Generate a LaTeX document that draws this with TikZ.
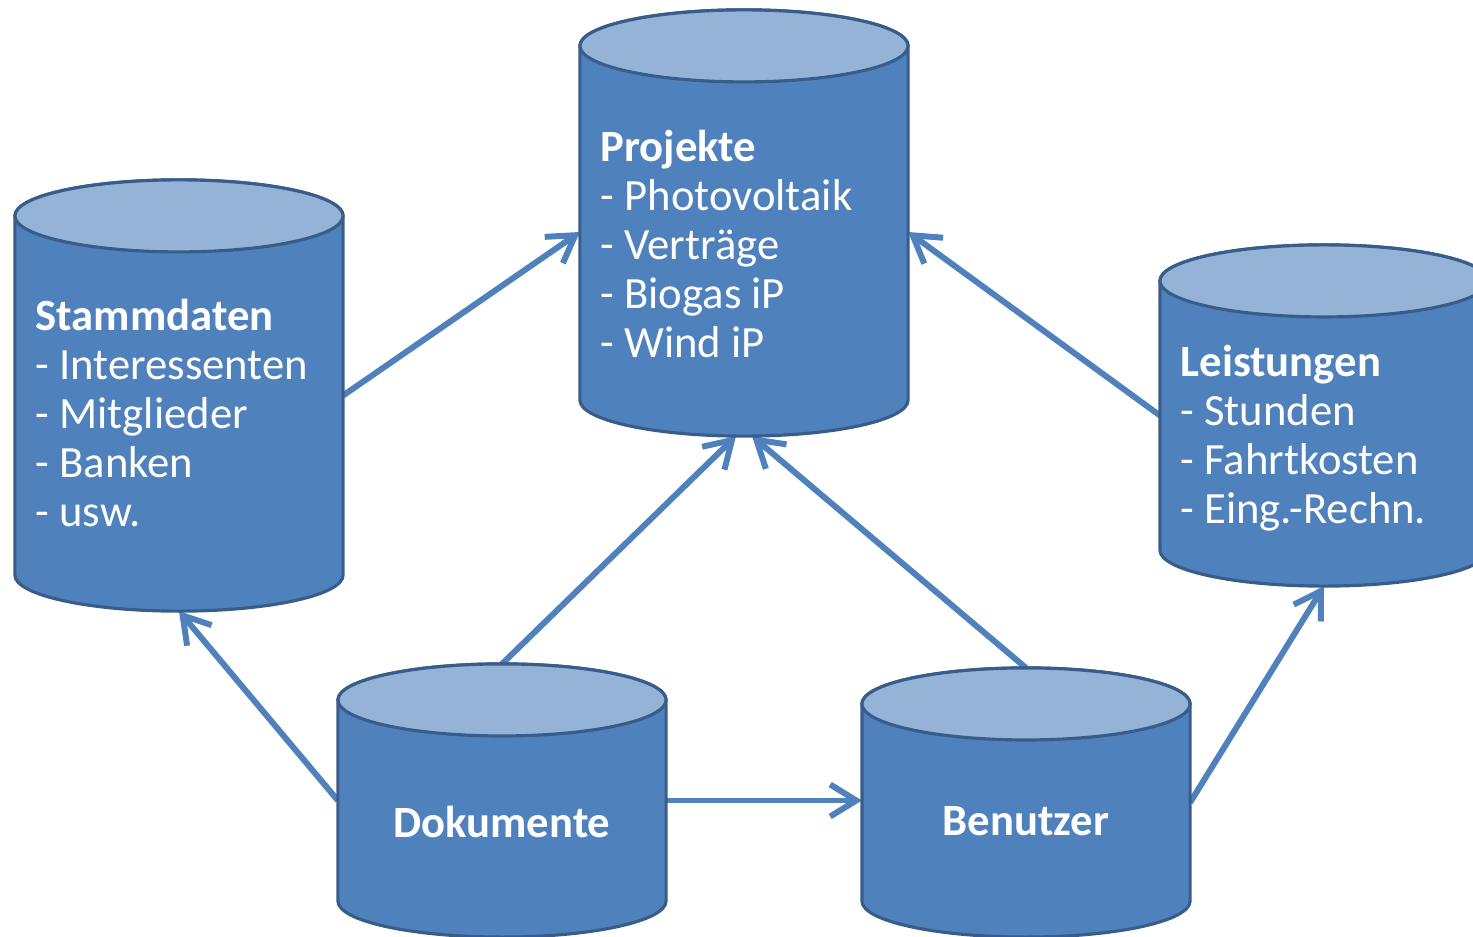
\documentclass[tikz,border=0pt]{standalone}
\usepackage{fontspec}
\setmainfont{Carlito}
\usetikzlibrary{arrows.meta}
\definecolor{dbbody}{HTML}{4F81BD}
\definecolor{dbtop}{HTML}{95B3D7}
\definecolor{dbline}{HTML}{385D8A}

\begin{document}
\begin{tikzpicture}[x=0.01cm, y=-0.01cm,
    db/.style={inner sep=0pt, outer sep=0pt, minimum width=3.28cm},
    lbl/.style={text=white, align=left, inner sep=0pt,
      font=\fontsize{12.7pt}{13.95pt}\selectfont},
    flow/.style={draw=dbbody, line width=1.7pt,
      -{Straight Barb[length=2.6mm, width=3.2mm]}}]
  \useasboundingbox[fill=white] (0,0) rectangle (1473,937);
  % Datenbanken
  \node[db, minimum height=4.26cm] (proj)  at (744,223) {};
  \node[db, minimum height=4.31cm] (stamm) at (179,395.5) {};
  \node[db, minimum height=3.41cm] (leist) at (1324,415.5) {};
  \node[db, minimum height=2.73cm] (doku)  at (502,800.5) {};
  \node[db, minimum height=2.69cm] (benu)  at (1026,802.5) {};

  % Verbindungen
  \draw[flow] (stamm.east) -- ([yshift=-0.09cm]proj.west);
  \draw[flow] (leist.west) -- ([yshift=-0.09cm]proj.east);
  \draw[flow] (doku.north) -- ([xshift=-0.08cm]proj.south);
  \draw[flow] (benu.north) -- ([xshift=0.08cm]proj.south);
  \draw[flow] (doku.west) -- (stamm.south);
  \draw[flow] (doku.east) -- (doku.east -| benu.west);
  \draw[flow] (benu.east) -- (leist.south);

  \foreach \n in {proj,stamm,leist,doku,benu} {
    \draw[dbline, line width=0.9pt, fill=dbbody]
      ([yshift=-0.36cm]\n.north west) -- ([yshift=0.36cm]\n.south west)
      arc[start angle=180, end angle=360, x radius=1.64cm, y radius=0.36cm]
      -- ([yshift=-0.36cm]\n.north east)
      arc[start angle=0, end angle=180, x radius=1.64cm, y radius=0.36cm]
      -- cycle;
    \draw[dbline, line width=0.9pt, fill=dbtop]
      ([yshift=-0.36cm]\n.north) ellipse[x radius=1.64cm, y radius=0.36cm];
  }

  % Beschriftungen
  \node[lbl, anchor=north west] (projtxt) at (600,129)
    {\textbf{Projekte}\\- Photovoltaik\\- Verträge\\- Biogas iP\\- Wind iP};
  \node[lbl, anchor=north west] (stammtxt) at (35,298)
    {\textbf{Stammdaten}\\- Interessenten\\- Mitglieder\\- Banken\\- usw.};
  \node[lbl, anchor=north west] (leisttxt) at (1180,344)
    {\textbf{Leistungen}\\- Stunden\\- Fahrtkosten\\- Eing.-Rechn.};
  \node[lbl, font=\fontsize{12.7pt}{13.95pt}\selectfont\bfseries] (dokutxt)
    at ([yshift=-0.21cm]doku.center) {Dokumente};
  \node[lbl, font=\fontsize{12.7pt}{13.95pt}\selectfont\bfseries] (benutxt)
    at ([yshift=-0.19cm]benu.center) {Benutzer};
\end{tikzpicture}
\end{document}
